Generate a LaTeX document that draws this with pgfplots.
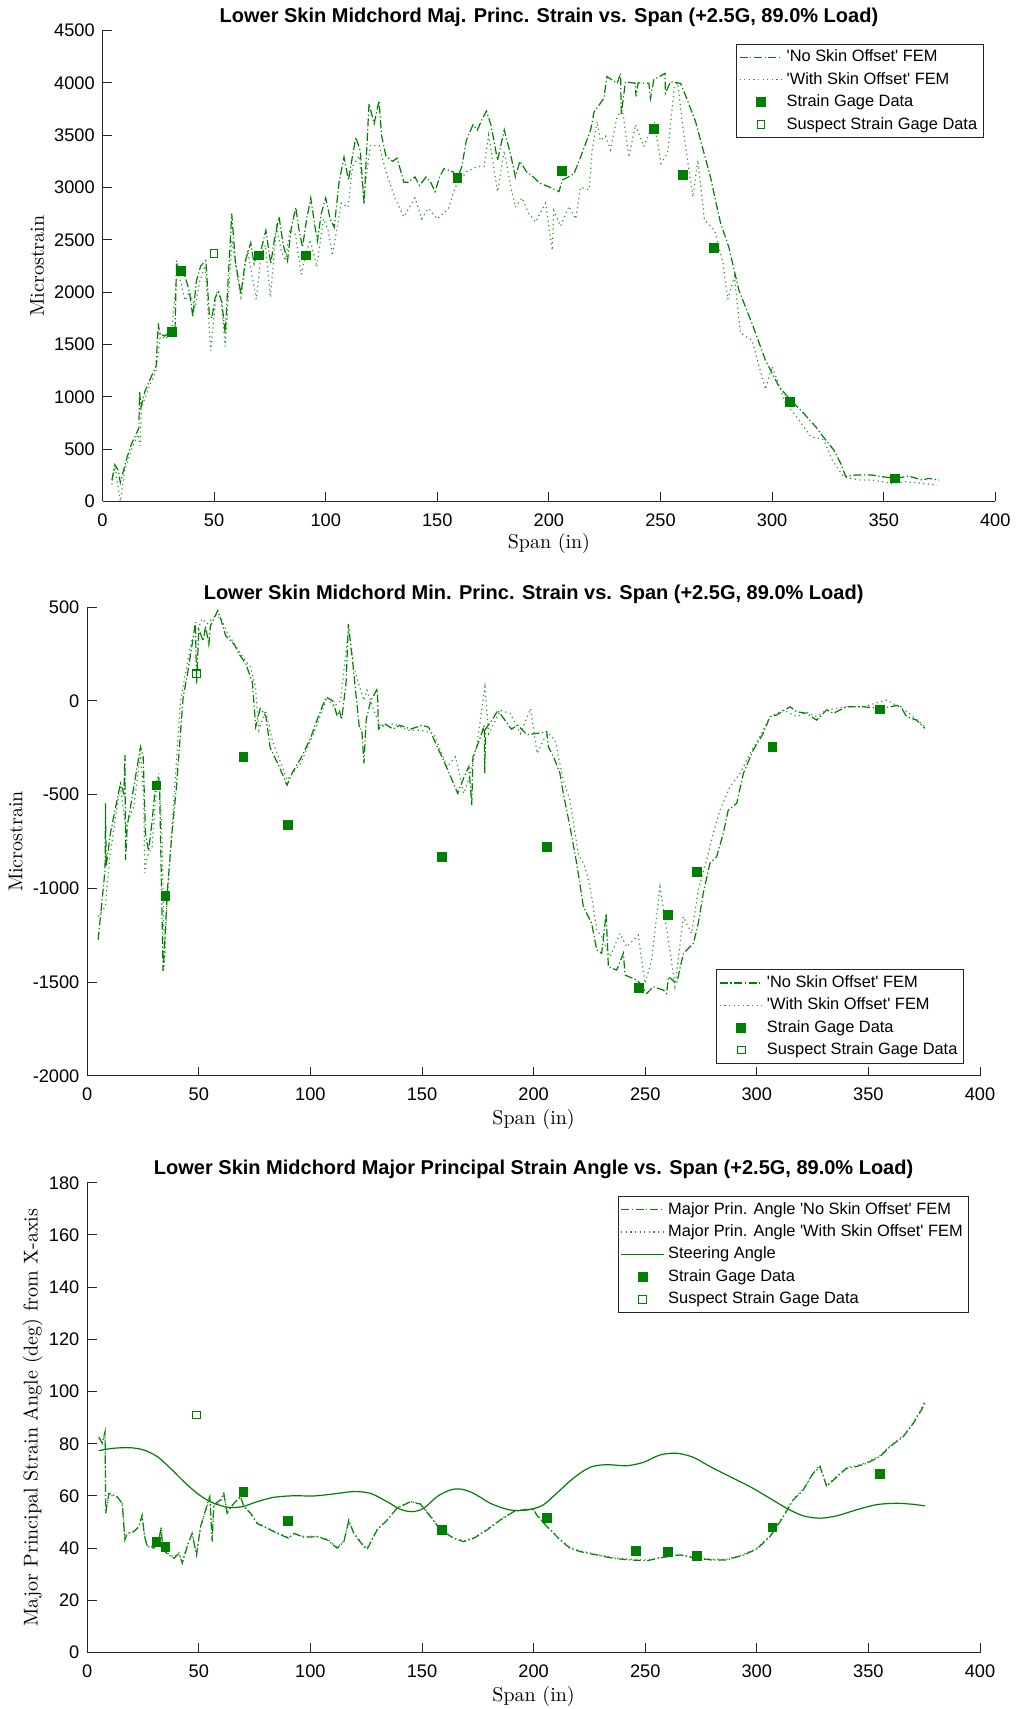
\documentclass[border=0pt]{standalone}
\usepackage{fontspec}
\setsansfont{Liberation Sans}
\usepackage{pgfplots}
\pgfplotsset{compat=1.18}
\definecolor{mgreen}{HTML}{008000}
\definecolor{lgreen}{HTML}{2E962E}
\definecolor{axgray}{HTML}{262626}

\pgfplotsset{
  strainaxis/.style={
    scale only axis, width=446.4pt, anchor=south west,
    xmin=0, xmax=400, xtick={0,50,...,400},
    axis x line*=bottom, axis y line*=left,
    axis line style={axgray, line width=0.5pt},
    tick align=inside, major tick length=4.7pt,
    every tick/.style={axgray, line width=0.5pt},
    every tick label/.append style={font=\sffamily\fontsize{9.1}{11}\selectfont, text=black},
    /pgf/number format/assume math mode=true,
    /pgf/number format/1000 sep={},
    xticklabel style={anchor=base, yshift=-12.5pt},
    yticklabel style={xshift=-0.4pt},
    title style={font=\sffamily\bfseries\fontsize{10}{12}\selectfont, at={(axis description cs:0.5,1)}, anchor=base, yshift=-2pt},
    xlabel={Span (in)},
    legend cell align=left,
    legend style={font=\sffamily\fontsize{8.2}{9.8}\selectfont, draw=axgray, line width=0.5pt,
      inner xsep=1.25pt, inner ysep=1pt, row sep=0pt, column sep=0pt,
      nodes={inner xsep=1.75pt, inner ysep=1.35pt, text height=6.5pt, text depth=2pt}},
    legend image code/.code={\draw[mark repeat=2,mark phase=2,#1] plot coordinates {(0pt,0pt) (10.75pt,0pt) (21.5pt,0pt)};},
  },
  nooff/.style={mgreen, line width=0.6pt, dash pattern=on 4pt off 1.3pt on 0.6pt off 1.3pt},
  withoff/.style={lgreen, line width=0.6pt, dash pattern=on 0.6pt off 1.7pt},
  gage/.style={only marks, mark=square*, mark size=2.2pt, mark options={solid, draw=mgreen, fill=mgreen}},
  suspect/.style={only marks, mark=square, mark size=1.9pt, mark options={solid, draw=mgreen, line width=0.55pt}},
}

\begin{document}
\begin{tikzpicture}
\useasboundingbox (0pt,0pt) rectangle (508pt,854.5pt);

% ---------------- major principal strain ----------------
\begin{axis}[strainaxis, at={(51.25pt,603.8pt)}, height=235.45pt,
  ymin=0, ymax=4500, ytick={0,500,...,4500},
  title={Lower Skin Midchord Maj. Princ. Strain vs. Span (+2.5G, 89.0\% Load)},
  ylabel={Microstrain},
  xlabel style={font=\fontsize{10}{12}\selectfont, at={(axis description cs:0.5,0)}, anchor=base, yshift=-23.8pt},
  ylabel style={font=\fontsize{10}{12}\selectfont, at={(axis description cs:0,0.5)}, rotate=0, anchor=base, yshift=29.3pt},
  legend style={at={(0.987,0.972)}, anchor=north east},
]
\addplot[nooff] coordinates {
(4.2,200) (5.5,350) (7,300) (8,180) (9,260) (11,420) (13,550) (15,640) (16.3,700) (16.6,1050)
(17.2,900) (19,1050) (22,1200) (24,1290) (25,1700) (25.6,1600) (28,1580) (30,1620) (32.5,1650) (33.2,2300)
(34,2150) (35,2200) (37,2150) (39,2000) (40.5,1760) (42,2100) (44,2250) (46.3,2300) (47.8,1800) (49,1750)
(50.5,1950) (52,2000) (53.5,1900) (55,1600) (56,2000) (57.9,2750) (59.5,2300) (62,1980) (64,2300) (66.4,2470)
(67.9,2270) (69,2350) (71,2400) (73.2,2590) (75.4,2270) (77,2500) (79.1,2720) (81,2450) (82.9,2300) (84.5,2600)
(86.6,2810) (88,2600) (89.6,2430) (91.5,2700) (93.3,2900) (95,2650) (96.3,2490) (98,2750) (100,2900) (102,2700)
(103.8,2620) (106,3050) (108.2,3290) (110.2,3070) (112,3300) (113.5,3480) (115.5,3350) (117.2,2840) (118,3200) (119.4,3800)
(121.7,3610) (123.9,3830) (125,3500) (127,3300) (130,3250) (132,3280) (135,3050) (137,3050) (140,3100) (142,3020)
(145,3100) (147,3050) (149,2960) (151,3100) (153,3180) (157,3150) (159,3090) (161,3200) (163,3450) (166,3600)
(168,3550) (170,3650) (172,3730) (174,3600) (177,3260) (180,3550) (183,3300) (185,3100) (187,3250) (190,3150)
(193,3100) (196,3040) (200.7,3000) (204.5,2960) (206,3070) (211.2,3130) (214.2,3290) (218.7,3550) (220.2,3720) (224.6,3850)
(226,4060) (230.6,3995) (232.1,4090) (232.4,3700) (234.3,4010) (238.8,3995) (239,3870) (240,4000) (244.8,3995) (245.5,3850)
(247,4030) (252,4090) (252.2,3900) (254.5,4010) (259,3995) (262,3835) (265.7,3630) (268.7,3390) (272.4,3100) (274.6,2880)
(276.9,2660) (280.6,2430) (285.1,2020) (291,1700) (297,1350) (303,1100) (307.5,985) (313.5,857) (319.5,714) (324,587)
(327.7,490) (330.7,364) (333,236) (337.4,252) (344.8,252) (349.3,236) (355.3,220) (361.2,242) (367.2,204) (370.2,220)
(374.7,204)
};
\addlegendentry{\textquotesingle No Skin Offset\textquotesingle\ FEM}
\addplot[withoff] coordinates {
(4.2,160) (5.5,350) (6.5,200) (8,0) (9,150) (10,300) (13,500) (16,640) (16.8,530) (17.5,900)
(21,1100) (24,1250) (26,1600) (28,1550) (31,1620) (33.5,2200) (35,2100) (37,1920) (39,2000) (41.5,1850)
(43.5,2100) (46,2250) (48.5,1440) (51,2000) (53,1950) (55,1480) (58,2500) (60,2200) (62,1950) (65,2400)
(68.9,1930) (71,2350) (73,2450) (75.2,1950) (78,2620) (80,2400) (82,2300) (84,2600) (86.5,2550) (89,2170)
(91,2350) (93,2500) (96,2240) (99,2700) (101,2600) (103,2350) (107,2850) (110,2810) (112,3200) (115,3300)
(117,2900) (120,3400) (124,3400) (127,3150) (131,2900) (135,2720) (140,2900) (143,2700) (146,2800) (150,2700)
(155,2800) (158,3000) (163,3150) (168,3200) (171,3200) (173,3500) (177,2960) (180,3350) (183,3000) (185,2810)
(188,2900) (191,2750) (194,2670) (198.5,2850) (201.5,2400) (202.2,2780) (205.2,2630) (209,2820) (212,2700) (214.2,3000)
(218,2980) (219.4,3360) (221.6,3630) (223,3450) (225.4,3490) (227.6,3360) (230.6,3680) (233,3740) (235.8,3290) (238.8,3600)
(242.5,3390) (247.2,3630) (250.2,3230) (253.2,3330) (256.2,3960) (257.7,4000) (260,3580) (264.5,2910) (266.7,3260) (269.7,2690)
(274.2,2590) (278,2280) (280.1,1930) (283.1,2150) (285.8,1610) (291,1540) (297,1070) (300,1290) (306,940) (312,780)
(317.2,620) (323.1,590) (326.8,400) (332,236) (338.8,204) (344.8,204) (353.7,173) (359.7,188) (367.2,173) (373.9,157)
};
\addlegendentry{\textquotesingle With Skin Offset\textquotesingle\ FEM}
\addplot[gage] coordinates {
(31,1620) (35,2200) (70,2350) (91,2350) (159,3090) (206,3160) (247,3560) (260,3120) (274,2420) (308,950) (355,220)
};
\addlegendentry{Strain Gage Data}
\addplot[suspect] coordinates {(50,2370)};
\addlegendentry{Suspect Strain Gage Data}
\end{axis}

% ---------------- minor principal strain ----------------
\begin{axis}[strainaxis, at={(43.6pt,316.5pt)}, height=234.4pt,
  ymin=-2000, ymax=500, ytick={-2000,-1500,...,500},
  title={Lower Skin Midchord Min. Princ. Strain vs. Span (+2.5G, 89.0\% Load)},
  ylabel={Microstrain},
  xlabel style={font=\fontsize{10}{12}\selectfont, at={(axis description cs:0.5,0)}, anchor=base, yshift=-24.5pt},
  ylabel style={font=\fontsize{10}{12}\selectfont, at={(axis description cs:0,0.5)}, rotate=0, anchor=base, yshift=32.4pt},
  legend style={at={(0.982,0.026)}, anchor=south east},
]
\addplot[nooff] coordinates {
(4.9,-1273) (6.7,-1060) (8.0,-900) (8.2,-546) (8.5,-883) (10.4,-706) (13.4,-528) (14.9,-440) (16.4,-493) (16.9,-289)
(17.2,-848) (17.9,-670) (20.9,-458) (23.9,-245) (25.1,-298) (26.1,-706) (27.5,-800) (29,-650) (30.6,-450) (32,-400)
(32.5,-500) (34,-1440) (36,-1000) (38,-700) (40,-457) (43,21) (45,150) (47,300) (48.5,420) (49,92)
(50,380) (52,320) (53,400) (54.5,300) (55.2,400) (58.5,482) (60,430) (62,349) (66,300) (68,250)
(71,200) (74,100) (75.5,-138) (77.5,-41) (80,-80) (82,-250) (84,-300) (86,-350) (89.5,-449) (92,-380)
(96,-300) (100,-200) (103,-100) (107,21) (110,0) (112,-80) (113,-50) (114,-100) (116,100) (117,411)
(119,200) (122,-150) (123,-150) (124,-333) (125,-100) (127,0) (130,66) (130.5,-150) (133,-120) (137,-150)
(140,-130) (145,-150) (150,-130) (153,-140) (157,-250) (159,-300) (162,-380) (166,-493) (169,-400) (171,-350)
(172.3,-555) (172.8,-300) (176,-200) (177.9,-130) (178.1,-385) (178.5,-150) (182,-90) (184,-50) (187,-100) (190,-150)
(193,-130) (197,-180) (201.4,-173) (205.9,-164) (206.6,-244) (208.9,-297) (211.8,-386) (213.3,-493) (216.3,-671) (219.3,-866)
(222.3,-1097) (226,-1186) (228.3,-1328) (230.5,-1346) (232.5,-1133) (233.5,-1417) (237.2,-1435) (240.2,-1346) (241,-1462) (246.2,-1488)
(247.7,-1506) (250.7,-1560) (253.6,-1524) (258.1,-1542) (259.6,-1560) (260.4,-1471) (264.1,-1506) (267.1,-1346) (271.6,-1293) (273.8,-1186)
(276,-1026) (279,-866) (282,-831) (285,-706) (287.2,-582) (291,-546) (294,-386) (298.4,-262) (302.9,-173) (305.9,-84)
(308.9,-75) (314.9,-31) (317.8,-57) (322.3,-66) (326.8,-102) (331.3,-48) (334.3,-66) (340.2,-31) (347.7,-31) (355.2,-39)
(359.6,-31) (364.1,-22) (367.1,-84) (371.6,-102) (375.3,-146)
};
\addlegendentry{\textquotesingle No Skin Offset\textquotesingle\ FEM}
\addplot[withoff] coordinates {
(4.9,-1150) (8.2,-1095) (9,-972) (10.4,-812) (13.4,-564) (14.9,-457) (17.2,-670) (18,-650) (20.9,-560) (23.9,-280)
(25.4,-528) (25.7,-918) (26.9,-830) (29.1,-777) (30.6,-528) (32.1,-387) (33.6,-741) (34.6,-1415) (35.8,-1060) (38.8,-528)
(41.8,0) (44.8,199) (47,330) (49.3,376) (51.5,438) (53.7,411) (56.7,447) (59.7,447) (62.7,367) (68.7,252)
(73.2,181) (75.4,74) (76.9,-156) (79.9,-50) (82.9,-209) (85.1,-280) (89.6,-422) (95.6,-333) (101.5,-174) (107.5,21)
(110.5,-32) (113.5,3) (117.2,393) (119.4,181) (123.9,3) (125.4,57) (128.4,-50) (131.4,-138) (137.4,-121) (143.3,-156)
(149.3,-156) (155.3,-174) (161.2,-351) (165,-298) (168.7,-493) (171.7,-387) (174.7,-227) (178.2,75) (179.9,-174) (185.1,-50)
(189.6,-67) (194.1,-174) (198.6,-41) (201.6,-280) (204.4,-208) (206.6,-173) (209.6,-208) (213.3,-422) (216.3,-529) (220,-813)
(223,-884) (225.3,-991) (228.3,-1222) (230.5,-1257) (234.2,-1364) (238.7,-1240) (241.7,-1311) (246.9,-1248) (249.9,-1506) (252.9,-1382)
(256.6,-991) (261.1,-1328) (263.3,-1524) (267.1,-1151) (270.8,-1240) (273.8,-1008) (277.5,-848) (280.5,-706) (283.5,-582) (288,-457)
(292.5,-386) (297,-279) (301.4,-190) (305.9,-84) (311.9,-48) (317.8,-84) (322.3,-60) (326.8,-84) (331.3,-48) (340.2,-31)
(347.7,-31) (358.2,5) (362,-20) (367.1,-55) (375.3,-137)
};
\addlegendentry{\textquotesingle With Skin Offset\textquotesingle\ FEM}
\addplot[gage] coordinates {
(31,-450) (35,-1040) (70,-300) (90,-660) (159,-830) (206,-780) (247,-1530) (260,-1140) (273,-910) (307,-245) (355,-45)
};
\addlegendentry{Strain Gage Data}
\addplot[suspect] coordinates {(49,145)};
\addlegendentry{Suspect Strain Gage Data}
\end{axis}

% ---------------- principal strain angle ----------------
\begin{axis}[strainaxis, at={(43.6pt,28.2pt)}, height=234.9pt,
  ymin=0, ymax=180, ytick={0,20,...,180},
  title={Lower Skin Midchord Major Principal Strain Angle vs. Span (+2.5G, 89.0\% Load)},
  ylabel={Major Principal Strain Angle (deg) from X-axis},
  xlabel style={font=\fontsize{10}{12}\selectfont, at={(axis description cs:0.5,0)}, anchor=base, yshift=-24.5pt},
  ylabel style={font=\fontsize{10}{12}\selectfont, at={(axis description cs:0,0.5)}, rotate=0, anchor=base, yshift=24.8pt},
  legend style={at={(0.988,0.972)}, anchor=north east},
]
\addplot[nooff] coordinates {
(5.2,82.7) (6.7,80.2) (8.0,84.7) (8.3,53.4) (9.7,61.0) (13.4,59.8) (15.7,57.2) (16.9,43.2) (17.9,45.7) (20.9,46.3)
(23.1,48.3) (24.6,52.7) (25.7,44.4) (26.9,40.6) (29.9,40.0) (32.1,43.2) (33.1,47.6) (34.0,39.3) (36.6,37.4) (38.8,36.1)
(41.1,38.0) (42.6,34.2) (44.8,40.6) (47.0,45.7) (49.0,37.4) (50.8,48.3) (53.0,54.6) (54.9,59.8) (56.0,42.5) (56.7,56.6)
(59.7,58.5) (61.2,61.0) (62.7,53.4) (65.7,57.2) (68.7,59.8) (70.2,55.9) (73.2,53.4) (76.1,49.5) (80.6,47.6) (85.1,45.7)
(90.3,43.8) (92.6,45.7) (97,44.2) (103,44.4) (107.5,43.2) (112,40.0) (115,42.5) (117.2,50.8) (119.4,45.7) (123.9,40.6)
(125.4,39.6) (129.9,47.0) (134.4,50.8) (138.8,55.3) (144.8,57.8) (149.3,56.9) (153.8,52.1) (158.3,47.0) (164.2,43.8) (168.7,42.5)
(173.2,43.8) (179.2,47.0) (185.1,50.8) (191.1,54.0) (195.6,54.7) (200.1,54.7) (201.4,52.7) (205.9,48.3) (208.9,45.7) (211.8,43.2)
(216.3,40.0) (220.8,38.7) (228.3,37.4) (235.7,36.1) (243.2,35.5) (250.7,35.2) (258.1,36.5) (265.6,37.4) (273.1,36.1) (279.8,35.5)
(286.5,35.5) (294,37.4) (299.9,39.6) (305.9,44.4) (311.9,52.1) (316.3,58.5) (320.8,62.3) (325.3,68.7) (328.3,71.3) (331.3,63.6)
(334.3,66.1) (340.2,70.6) (344.7,71.3) (349.2,72.5) (355.2,75.1) (359.6,78.9) (365.6,82.7) (370.1,87.8) (373.8,93.0) (375.3,95.5)
};
\addlegendentry{Major Prin. Angle \textquotesingle No Skin Offset\textquotesingle\ FEM}
\addplot[withoff] coordinates {
(5.2,82.0) (6.7,80.5) (8.0,83.5) (8.3,54.0) (9.7,60.5) (13.4,59.5) (15.7,57.0) (16.9,44.0) (17.9,45.5) (20.9,46.5)
(23.1,48.0) (24.6,52.0) (25.7,45.0) (26.9,41.0) (29.9,40.3) (32.1,43.5) (33.1,48.5) (34.0,39.8) (36.6,37.8) (38.8,36.5)
(41.1,38.3) (42.6,35.0) (44.8,41.0) (47.0,46.0) (49.0,38.0) (50.8,48.0) (53.0,54.0) (54.9,59.0) (56.0,44.0) (56.7,56.0)
(59.7,58.0) (61.2,60.5) (62.7,54.0) (65.7,57.0) (68.7,59.5) (70.2,56.2) (73.2,53.6) (76.1,49.8) (80.6,47.8) (85.1,45.9)
(90.3,44.0) (92.6,45.5) (97,44.5) (103,44.6) (107.5,43.5) (112,40.3) (115,42.8) (117.2,50.0) (119.4,46.0) (123.9,40.9)
(125.4,40.0) (129.9,47.2) (134.4,51.0) (138.8,55.5) (144.8,57.9) (149.3,57.0) (153.8,52.4) (158.3,47.3) (164.2,44.0) (168.7,42.8)
(173.2,44.0) (179.2,47.3) (185.1,51.0) (191.1,54.2) (195.6,54.9) (200.1,54.9) (201.4,53.0) (205.9,48.6) (208.9,46.0) (211.8,43.5)
(216.3,40.3) (220.8,39.0) (228.3,37.6) (235.7,36.4) (243.2,35.8) (250.7,35.5) (258.1,36.7) (265.6,37.6) (273.1,36.4) (279.8,35.8)
(286.5,35.8) (294,37.6) (299.9,39.9) (305.9,44.7) (311.9,52.4) (316.3,58.8) (320.8,62.6) (325.3,69.0) (328.3,71.8) (331.3,64.0)
(334.3,66.5) (340.2,70.9) (344.7,71.6) (349.2,72.8) (355.2,75.4) (359.6,79.2) (365.6,83.0) (370.1,88.2) (373.8,93.5) (375.3,96.5)
};
\addlegendentry{Major Prin. Angle \textquotesingle With Skin Offset\textquotesingle\ FEM}
\addplot[mgreen, line width=0.6pt, smooth, tension=0.5] coordinates {
(5.2,77.4) (11.9,78.3) (19.4,78.5) (25.4,77.6) (31.4,75.1) (37.3,70.6) (43.3,65.5) (49.3,61.0) (55.2,57.8) (62.7,55.7)
(69.4,55.9) (76.1,57.8) (83.6,59.5) (92.6,60.1) (101.5,60.0) (110.5,60.8) (119.4,61.7) (126.9,61.0) (134.4,57.8) (140.3,54.9)
(145.6,54.0) (150.8,55.3) (156.8,59.8) (162.7,62.3) (167.2,62.7) (173.2,61.0) (180.6,57.2) (188.1,54.9) (194.1,54.4) (200.1,55.2)
(204.4,56.6) (210.3,61.0) (217.8,66.8) (225.3,71.0) (232.7,72.0) (241.7,71.6) (249.2,72.9) (256.6,75.7) (264.1,76.4) (271.6,74.8)
(279,71.3) (288,67.4) (296.9,63.6) (305.9,59.1) (313.4,55.3) (320.8,52.4) (328.3,51.5) (335.8,52.4) (344.7,54.7) (353.7,56.7)
(362.6,57.2) (370.1,56.8) (375.3,56.2)
};
\addlegendentry{Steering Angle}
\addplot[gage] coordinates {
(31,42.5) (35,40.5) (70,61.5) (90,50.5) (159,47) (206,51.5) (246,39) (260,38.5) (273,37) (307,48) (355,68.5)
};
\addlegendentry{Strain Gage Data}
\addplot[suspect] coordinates {(49,91)};
\addlegendentry{Suspect Strain Gage Data}
\end{axis}
\end{tikzpicture}
\end{document}
